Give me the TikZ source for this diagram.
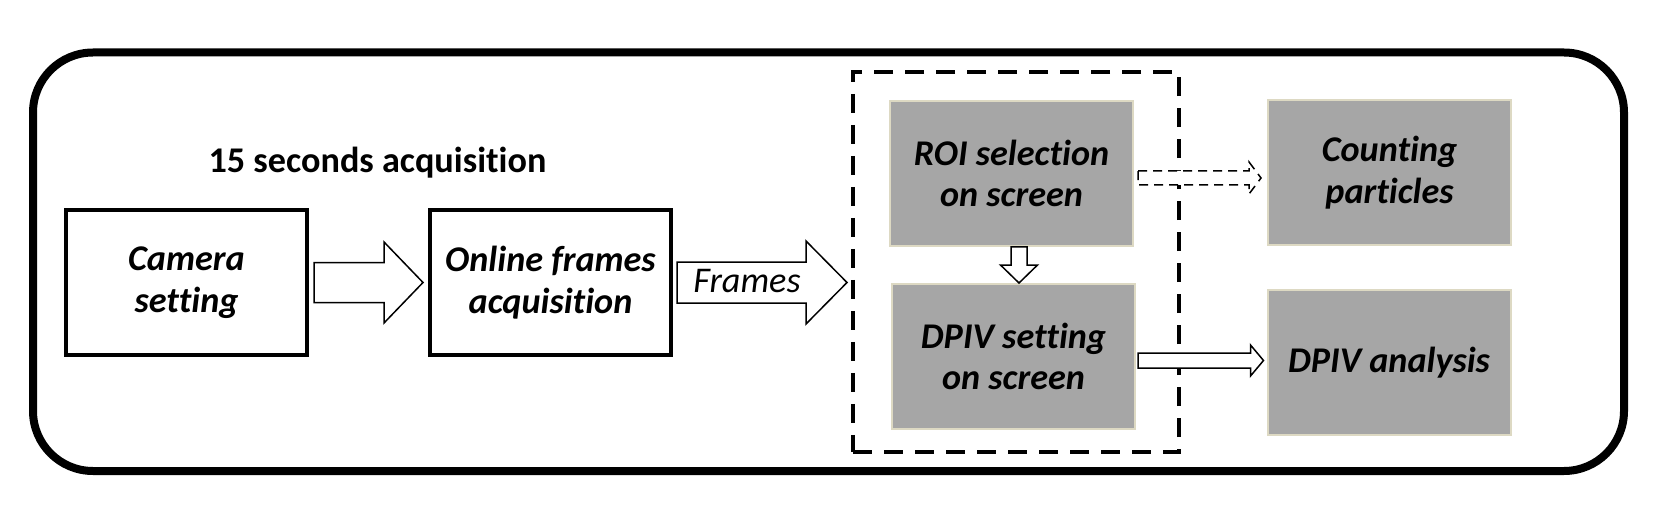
\documentclass[tikz,border=0pt]{standalone}
\usepackage{fontspec}
\setmainfont{Carlito}[Ligatures={NoCommon}]
\usepackage{tikz}
\usetikzlibrary{calc,positioning}
\definecolor{boxgray}{RGB}{166,166,166}
\definecolor{boxedge}{RGB}{221,217,195}
\newcommand{\boxfont}{\fontsize{10.3}{11.8}\selectfont}
% hollow block arrow: [style]{from}{to}{half shaft}{half head}{head length}
\newcommand{\fatarrow}[6][]{%
  \draw[#1] let \p1=#2, \p2=#3, \p3=($(\p2)!#6!(\p1)$) in
    ($(\p1)!#4!90:(\p2)$) -- ($(\p3)!#4!90:(\p2)$) -- ($(\p3)!#5!90:(\p2)$) -- (\p2)
    -- ($(\p3)!#5!-90:(\p2)$) -- ($(\p3)!#4!-90:(\p2)$) -- ($(\p1)!#4!-90:(\p2)$) -- cycle;}

\begin{document}
\begin{tikzpicture}[x=0.1mm,y=0.1mm,
  wbox/.style={draw, line width=0.4mm, minimum width=24.1mm, minimum height=14.5mm,
    align=center, font=\boxfont\bfseries\itshape},
  gbox/.style={draw=boxedge, fill=boxgray, line width=0.2mm, minimum width=24.3mm,
    minimum height=14.5mm, align=center, font=\boxfont\bfseries\itshape},
  grpbox/.style={draw, line width=0.4mm, dash pattern=on 1.9mm off 1.2mm,
    minimum width=32.6mm, minimum height=38mm},
  blk/.style={draw, fill=white, line width=0.15mm},
  blkdash/.style={blk, dash pattern=on 0.9mm off 0.6mm}]
  \useasboundingbox (0,0) rectangle (1655,513);
  \draw[line width=0.8mm, rounded corners=6mm] (33,42) rectangle (1624,460.5);

  \node[font=\boxfont\bfseries, anchor=base] (title) at (377.5,340) {15 seconds acquisition};
  \node[wbox] (cam) at (186.5,230.5) {Camera\\setting};
  \node[wbox] (onl) at (550.5,230.5) {Online frames\\acquisition};
  \node[grpbox] (grp) at (1016,251) {};
  \node[gbox] (roi) at (1011.5,339.5) {ROI selection\\on screen};
  \node[gbox] (dset) at (1013.5,156.5) {DPIV setting\\on screen};
  \node[gbox] (cnt) at (1389.5,340.5) {Counting\\particles};
  \node[gbox] (ana) at (1389,150.5) {DPIV analysis};

  \fatarrow[blk]{([xshift=0.5mm]cam.east)}{([xshift=-0.5mm]onl.west)}{2mm}{4.05mm}{3.9mm}
  \fatarrow[blk]{([xshift=0.4mm]onl.east)}{($(onl.east -| grp.west)+(-0.4mm,0)$)}{2.05mm}{4.15mm}{4.1mm}
  \node[font=\boxfont\itshape, anchor=base] (frm) at (747,221) {Frames};
  \fatarrow[blk]{([xshift=0.75mm]roi.south)}{($(roi.south |- dset.north)+(0.75mm,0)$)}{0.8mm}{1.85mm}{1.8mm}
  \fatarrow[blkdash]{($(roi.east)+(0.4mm,-0.45mm)$)}{($(roi.east -| cnt.west)+(-0.6mm,-0.45mm)$)}{0.7mm}{1.6mm}{1.2mm}
  \fatarrow[blk]{($(dset.east)+(0.2mm,-0.4mm)$)}{($(dset.east -| ana.west)+(-0.3mm,-0.4mm)$)}{0.75mm}{1.55mm}{1.3mm}
\end{tikzpicture}
\end{document}
